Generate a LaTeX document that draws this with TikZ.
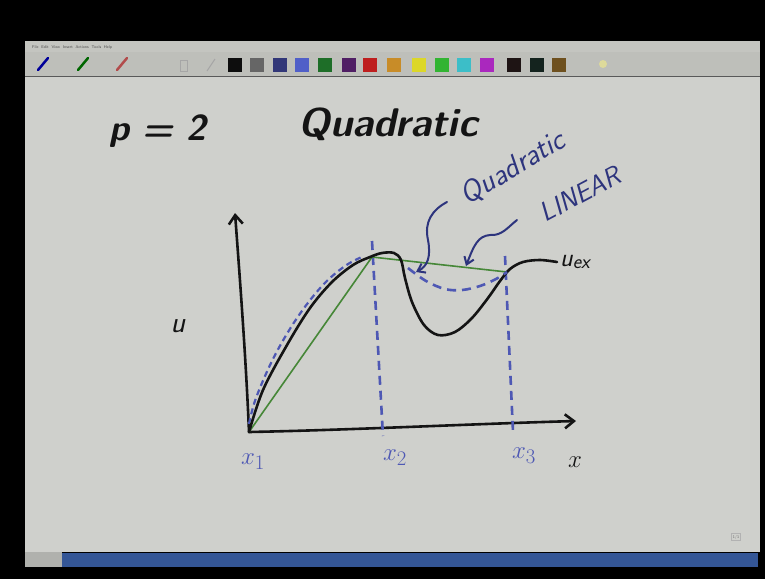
\documentclass[tikz,border=0pt]{standalone}
\usepackage{fontspec}
\usetikzlibrary{arrows.meta}
\definecolor{canvas}{RGB}{207,208,204}
\definecolor{menubg}{RGB}{196,197,192}
\definecolor{toolbg}{RGB}{190,191,186}
\definecolor{barblue}{RGB}{52,86,150}
\definecolor{inkblue}{RGB}{78,88,180}
\definecolor{navy}{RGB}{45,52,125}
\definecolor{inkgreen}{RGB}{70,135,55}
\definecolor{inkblack}{RGB}{20,20,20}
\begin{document}
\begin{tikzpicture}[x=1pt,y=-1pt,
  ink/.style={draw=inkblack,line width=2.6pt,line cap=round,line join=round},
  thin ink/.style={draw=inkgreen,line width=1.6pt,line cap=round},
  dashblue/.style={draw=inkblue,line width=2.6pt,dash pattern=on 9pt off 6pt},
  note/.style={draw=navy,line width=2pt,line cap=round,line join=round,-{Straight Barb[length=7pt,width=10pt]}},
  lab/.style={text=inkblue,inner sep=0pt}]
\useasboundingbox (0,0) rectangle (765,579);
% screen frame
\fill[black] (0,0) rectangle (765,579);
\fill[menubg] (25,41) rectangle (760,52);
\fill[toolbg] (25,52) rectangle (760,76);
\draw[gray!70!black,line width=0.8pt] (25,76.5) -- (760,76.5);
\fill[canvas] (25,77) rectangle (760,552);
\fill[canvas!85!black] (25,552) rectangle (62,567);
\fill[barblue] (62,553) rectangle (758,567);
\node[font=\sffamily\fontsize{4}{4}\selectfont,text=black!70,anchor=west,inner sep=0pt] (menu) at (32,47)
  {File\ \ Edit\ \ View\ \ Insert\ \ Actions\ \ Tools\ \ Help};
% pen icons
\draw[draw=blue!60!black,line width=2.5pt,line cap=round] (38,70) -- (48,58);
\draw[draw=green!40!black,line width=2.5pt,line cap=round] (78,70) -- (88,58);
\draw[draw=red!40!gray,line width=2.5pt,line cap=round] (117,70) -- (127,58);
\draw[gray!70,line width=1pt] (180,60) rectangle (187,71);
\draw[gray!70,line width=1pt] (207,71) -- (215,59);
\fill[yellow!50!gray!60] (603,64) circle (4pt);
% colour swatches
\foreach \xx/\cc in {228/{black!95},250/{black!60},273/{rgb,255:red,50;green,55;blue,120},
  295/{rgb,255:red,80;green,95;blue,200},318/{rgb,255:red,30;green,110;blue,40},
  342/{rgb,255:red,80;green,30;blue,100},363/{rgb,255:red,190;green,30;blue,30},
  387/{rgb,255:red,200;green,140;blue,40},412/{rgb,255:red,220;green,215;blue,40},
  435/{rgb,255:red,50;green,180;blue,50},457/{rgb,255:red,60;green,190;blue,200},
  480/{rgb,255:red,170;green,40;blue,190},507/{rgb,255:red,30;green,20;blue,20},
  530/{rgb,255:red,20;green,35;blue,30},552/{rgb,255:red,110;green,80;blue,30}}
  \fill[color=\cc] (\xx,58) rectangle ++(14,14);
\node[draw=gray!60,fill=canvas,font=\sffamily\fontsize{4}{4}\selectfont,text=black!60,inner sep=1.5pt] (page) at (736,537) {1/1};

% titles
\node[font=\sffamily\bfseries\itshape\fontsize{36}{36}\selectfont,text=inkblack,inner sep=0pt] (p) at (158,131) {p = 2};
\node[font=\sffamily\bfseries\itshape\fontsize{40}{40}\selectfont,text=inkblack,inner sep=0pt] (quad) at (388,124) {Quadratic};

% axes
\coordinate (O) at (249,432);
\coordinate (ytop) at (235,213);
\coordinate (xend) at (576,421);
\draw[ink,-{Straight Barb[length=9pt,width=14pt]}] (O) .. controls (246,360) and (240,280) .. (ytop);
\draw[ink,-{Straight Barb[length=9pt,width=14pt]}] (O) .. controls (350,430) and (470,424) .. (xend);

% element boundaries
\coordinate (x2t) at (372,241);
\coordinate (x2b) at (383,436);
\coordinate (x3t) at (505,256);
\coordinate (x3b) at (513,432);
\draw[dashblue] (x2t) -- (x2b);
\draw[dashblue] (x3t) -- (x3b);

% linear interpolant
\coordinate (n2) at (372,257);
\coordinate (n3) at (507,272);
\draw[thin ink] (O) -- (n2) -- (n3);

% quadratic interpolant (first element, drawn beside the exact curve)
\draw[dashblue,line width=2.2pt,dash pattern=on 6pt off 4pt] plot[smooth,tension=0.6] coordinates {(249,424) (256,398) (274,357) (297,318) (322,286) (345,266) (364,256)};

% exact solution
\draw[ink] plot[smooth,tension=0.55] coordinates {(249,432) (263,390) (287,345) (310,308) (332,282) (353,265) (370,257) (382,253) (394,253) (401,260) (405,278) (412,302) (424,325) (438,335) (455,332) (472,318) (488,298) (500,281) (510,269) (523,262) (540,260) (557,262)};
\node[font=\sffamily\itshape\fontsize{26}{26}\selectfont,text=inkblack,inner sep=0pt,anchor=west] (uex) at (560,262) {u\raisebox{-2pt}{\fontsize{20}{20}\selectfont ex}};

% quadratic interpolant (second element)
\draw[dashblue] plot[smooth,tension=0.6] coordinates {(408,268) (426,281) (445,289) (462,290) (480,286) (496,279) (507,272)};

% annotations
\node[font=\sffamily\itshape\fontsize{30}{30}\selectfont,text=navy,inner sep=0pt,rotate=31] (qlab) at (513,168) {Quadratic};
\node[font=\sffamily\itshape\fontsize{27}{27}\selectfont,text=navy,inner sep=0pt,rotate=28] (llab) at (580,194) {LINEAR};
\coordinate (qs) at (447,202);
\coordinate (qe) at (416,272);
\draw[note] (qs) .. controls (432,210) and (424,222) .. (428,240) .. controls (431,256) and (428,266) .. (qe);
\coordinate (ls) at (517,220);
\coordinate (le) at (466,266);
\draw[note] (ls) .. controls (508,227) and (502,236) .. (490,235) .. controls (478,236) and (474,245) .. (le);

% axis labels
\node[font=\sffamily\itshape\fontsize{30}{30}\selectfont,text=inkblack,inner sep=0pt] (u) at (178,326) {u};
\node[lab,font=\fontsize{28}{28}\selectfont] (lx1) at (253,462) {$x_1$};
\node[lab,font=\fontsize{28}{28}\selectfont] (lx2) at (395,458) {$x_2$};
\node[lab,font=\fontsize{28}{28}\selectfont] (lx3) at (524,456) {$x_3$};
\node[inner sep=0pt,text=inkblack,font=\fontsize{28}{28}\selectfont] (lx) at (575,462) {$x$};
\end{tikzpicture}
\end{document}
